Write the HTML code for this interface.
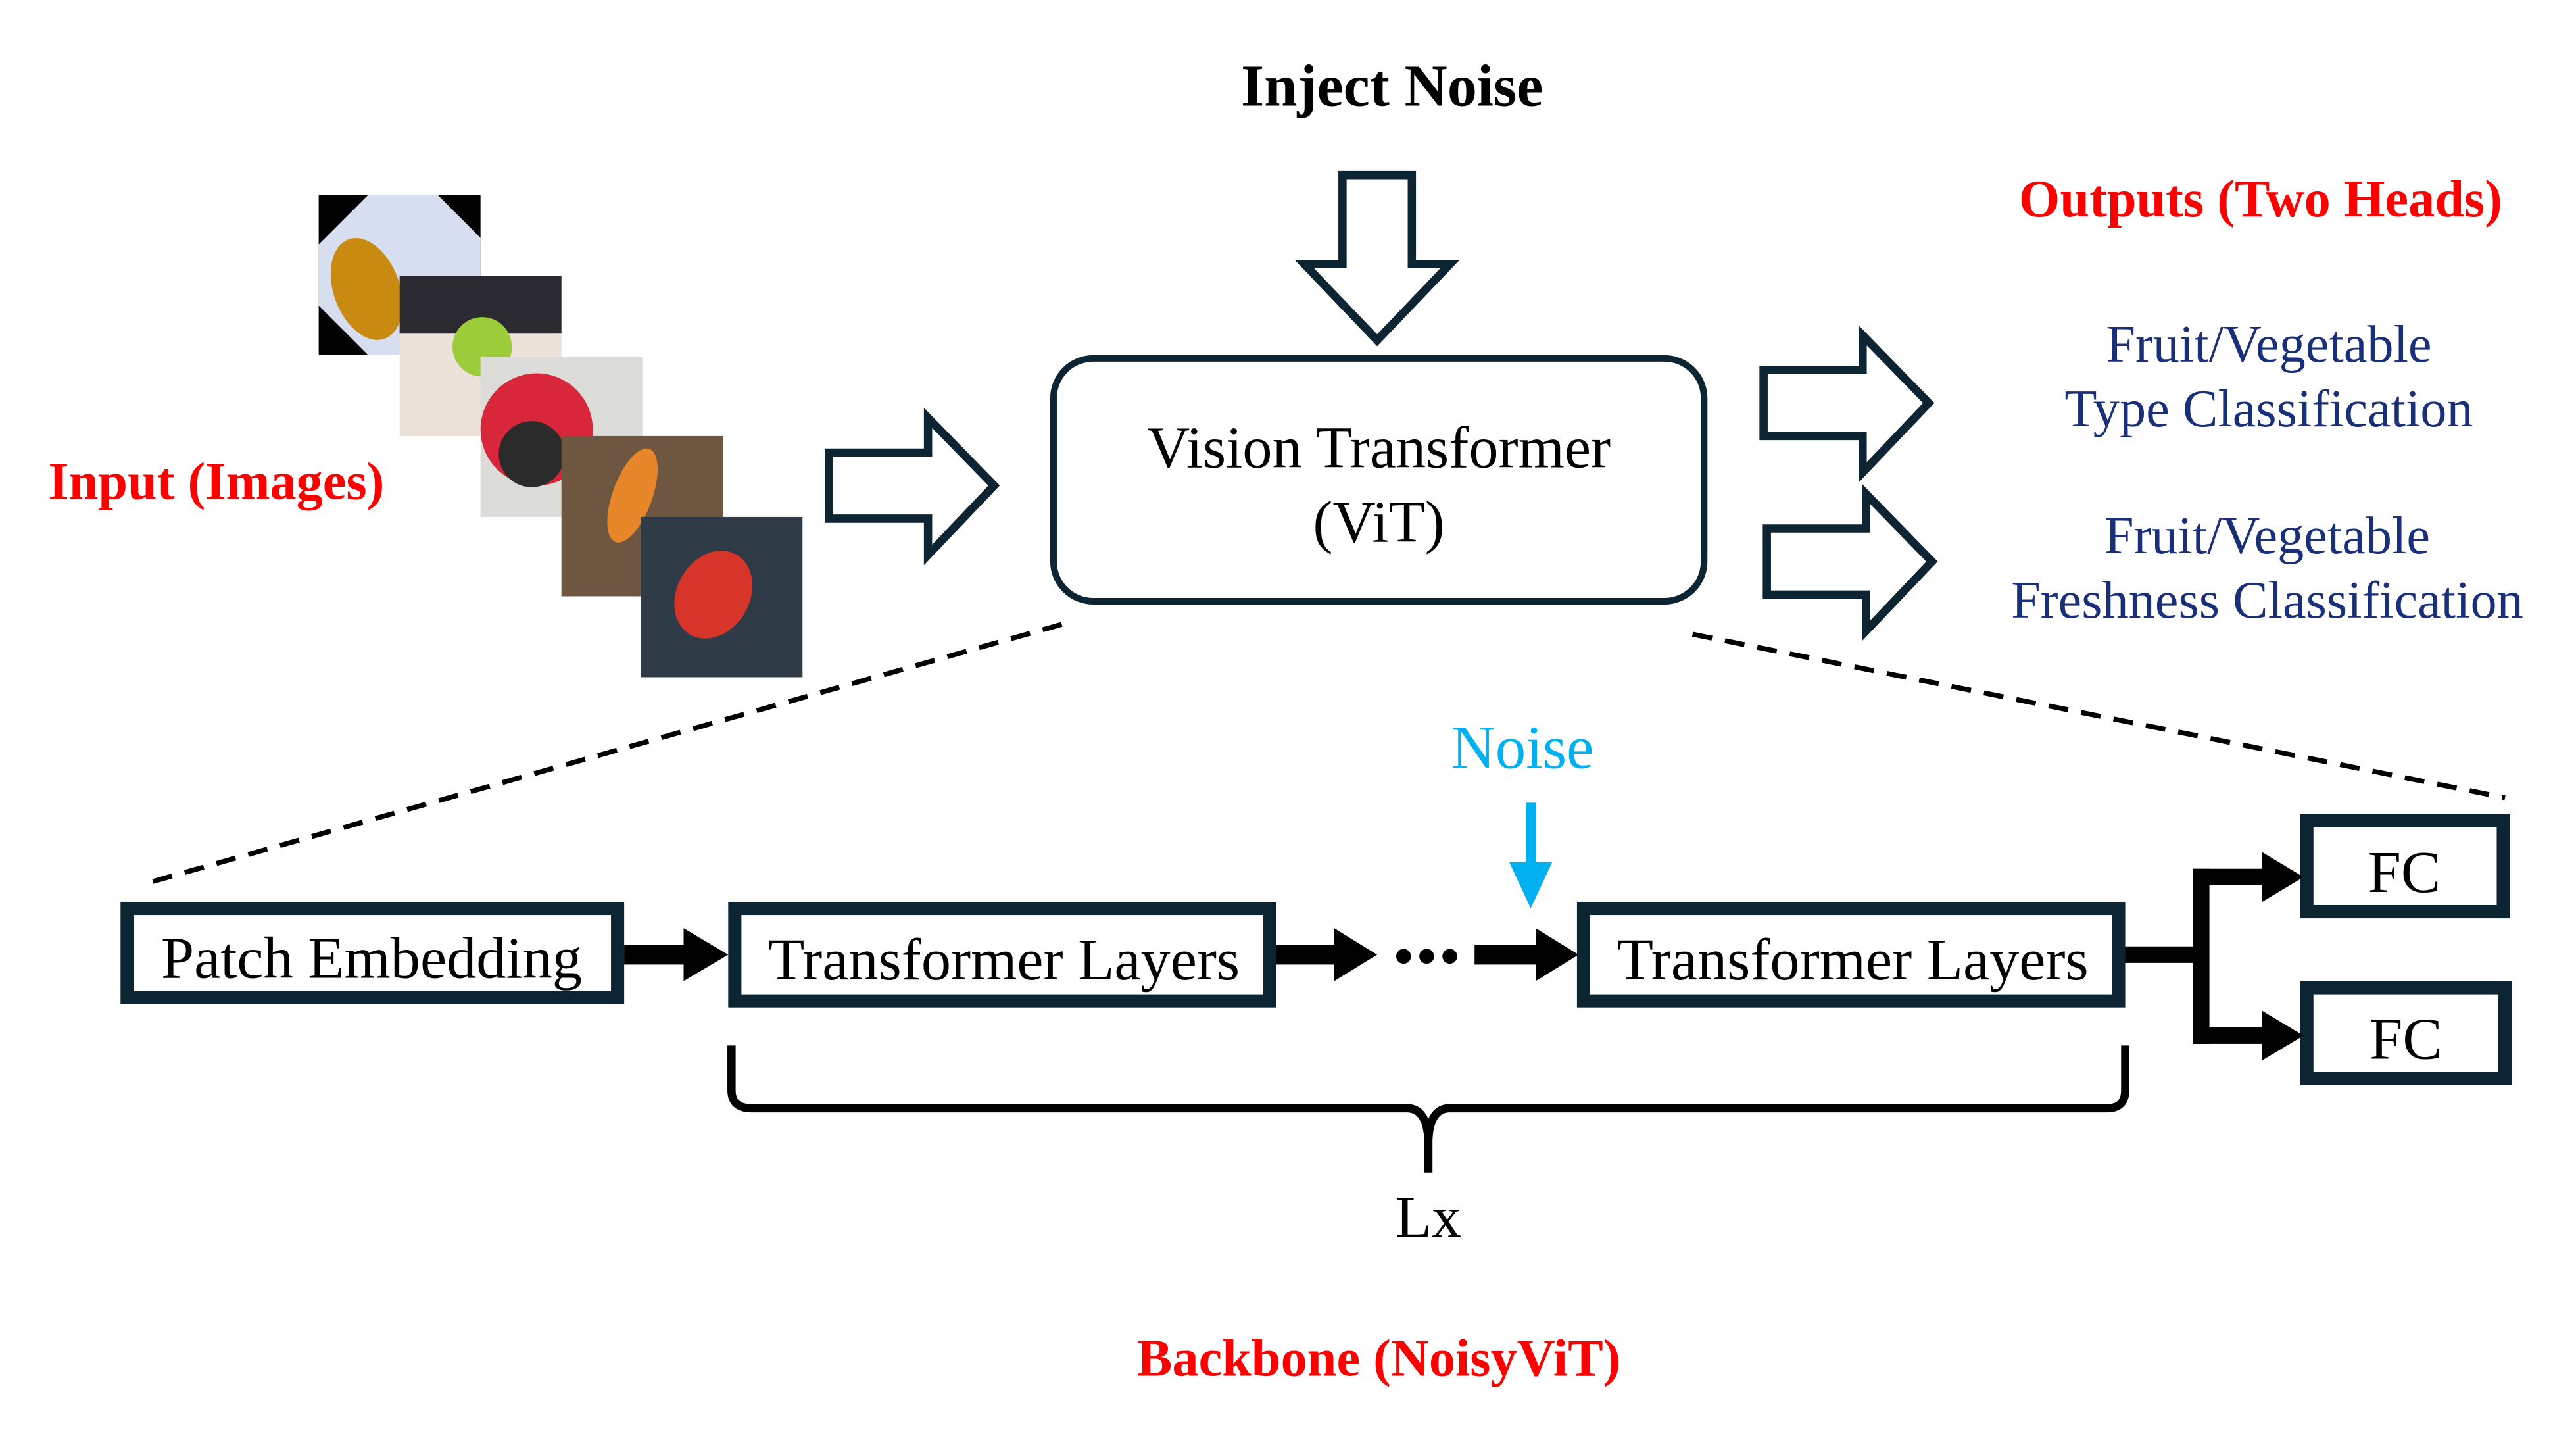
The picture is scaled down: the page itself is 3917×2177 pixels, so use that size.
<!DOCTYPE html>
<html><head><meta charset="utf-8"><style>
html,body{margin:0;padding:0;background:#fff;width:3917px;height:2177px;overflow:hidden}
svg{display:block}
text{font-family:"Liberation Serif",serif}
</style></head><body>
<svg width="3917" height="2177" viewBox="0 0 1560 867" xmlns="http://www.w3.org/2000/svg">
<rect width="1560" height="867" fill="#fff"/>
<text x="843" y="64" font-size="36" font-weight="bold" text-anchor="middle" fill="#000">Inject Noise</text>
<path d="M813,106 H855 V160 H878 L834,206 L790,160 H813 Z" fill="#fff" stroke="#0d2433" stroke-width="5" stroke-linejoin="miter"/>
<text x="1369" y="131" font-size="32" font-weight="bold" text-anchor="middle" fill="#f00">Outputs (Two Heads)</text>
<text x="131" y="302" font-size="32" font-weight="bold" text-anchor="middle" fill="#f00">Input (Images)</text>
<!-- images -->
<rect x="193" y="118" width="98" height="97" fill="#000"/>
<path d="M223,118 H265 L291,144 V215 H223 L193,185 V148 Z" fill="#d7def0"/>
<ellipse cx="222" cy="175" rx="20" ry="32" fill="#c98a12" transform="rotate(-20 222 175)"/>
<rect x="242" y="167" width="98" height="97" fill="#ece2da"/>
<rect x="242" y="167" width="98" height="35" fill="#2a2a30"/>
<circle cx="292" cy="210" r="18" fill="#9ccc3a"/>
<rect x="291" y="216" width="98" height="97" fill="#dcdcd8"/>
<circle cx="325" cy="260" r="34" fill="#d8273a"/>
<circle cx="322" cy="275" r="20" fill="#2b2b2b"/>
<rect x="340" y="264" width="98" height="97" fill="#6e5640"/>
<ellipse cx="383" cy="300" rx="12" ry="30" fill="#e8862a" transform="rotate(20 383 300)"/>
<rect x="388" y="313" width="98" height="97" fill="#2f3b47"/>
<ellipse cx="432" cy="360" rx="22" ry="28" fill="#d8352a" transform="rotate(30 432 360)"/>
<!-- right arrow in -->
<path d="M502,274 H562 V253 L602,294 L562,336 V314 H502 Z" fill="#fff" stroke="#0d2433" stroke-width="5"/>
<!-- ViT box -->
<rect x="638" y="217" width="394" height="147" rx="24" fill="#fff" stroke="#0d2433" stroke-width="4"/>
<text x="835" y="283" font-size="36" text-anchor="middle" fill="#000">Vision Transformer</text>
<text x="835" y="328" font-size="36" text-anchor="middle" fill="#000">(ViT)</text>
<!-- output arrows -->
<path d="M1068,224 H1128 V203 L1168,244 L1128,286 V264 H1068 Z" fill="#fff" stroke="#0d2433" stroke-width="5"/>
<path d="M1070,320 H1130 V299 L1170,340 L1130,382 V360 H1070 Z" fill="#fff" stroke="#0d2433" stroke-width="5"/>
<g font-size="32" text-anchor="middle" fill="#1a2f7a">
<text x="1374" y="219">Fruit/Vegetable</text>
<text x="1374" y="258">Type Classification</text>
<text x="1373" y="335">Fruit/Vegetable</text>
<text x="1373" y="374">Freshness Classification</text>
</g>
<!-- dashed -->
<line x1="643" y1="378" x2="88" y2="535" stroke="#000" stroke-width="3" stroke-dasharray="12,8"/>
<line x1="1025" y1="384" x2="1517" y2="483" stroke="#000" stroke-width="3" stroke-dasharray="12,8"/>
<text x="922" y="465" font-size="37" text-anchor="middle" fill="#00b0f0">Noise</text>
<line x1="927" y1="486" x2="927" y2="525" stroke="#00b0f0" stroke-width="6"/>
<path d="M914,522 H940 L927,550 Z" fill="#00b0f0"/>
<!-- boxes -->
<g fill="#fff" stroke="#0d2433" stroke-width="8">
<rect x="77" y="550" width="297" height="54"/>
<rect x="445" y="550" width="324" height="56"/>
<rect x="959" y="550" width="324" height="56"/>
<rect x="1397" y="497" width="119" height="55"/>
<rect x="1397" y="598" width="120" height="55"/>
</g>
<g font-size="36" text-anchor="middle" fill="#000">
<text x="225" y="592">Patch Embedding</text>
<text x="608" y="593">Transformer Layers</text>
<text x="1122" y="593">Transformer Layers</text>
<text x="1456" y="540">FC</text>
<text x="1457" y="641">FC</text>
</g>
<!-- arrows -->
<g fill="#000">
<rect x="378" y="572" width="40" height="12"/><path d="M414,562 L441,578 L414,594 Z"/>
<rect x="773" y="572" width="38" height="12"/><path d="M808,562 L834,578 L808,594 Z"/>
<circle cx="850" cy="579" r="4.5"/><circle cx="864" cy="579" r="4.5"/><circle cx="878" cy="579" r="4.5"/>
<rect x="893" y="572" width="40" height="12"/><path d="M930,562 L956,578 L930,594 Z"/>
<rect x="1287" y="573" width="47" height="10"/>
<rect x="1328" y="526" width="10" height="106"/>
<rect x="1328" y="526" width="45" height="10"/><path d="M1370,516 L1395,531 L1370,546 Z"/>
<rect x="1328" y="622" width="45" height="10"/><path d="M1370,612 L1395,627 L1370,642 Z"/>
</g>
<!-- brace -->
<path d="M443,633 V660 Q443,671 455,671 H852 Q864,671 865,690 V710 M865,690 Q866,671 878,671 H1276 Q1287,671 1287,660 V633" fill="none" stroke="#000" stroke-width="5"/>
<text x="865" y="749" font-size="36" text-anchor="middle" fill="#000">Lx</text>
<text x="835" y="833" font-size="32" font-weight="bold" text-anchor="middle" fill="#f00">Backbone (NoisyViT)</text>
</svg>
</body></html>
